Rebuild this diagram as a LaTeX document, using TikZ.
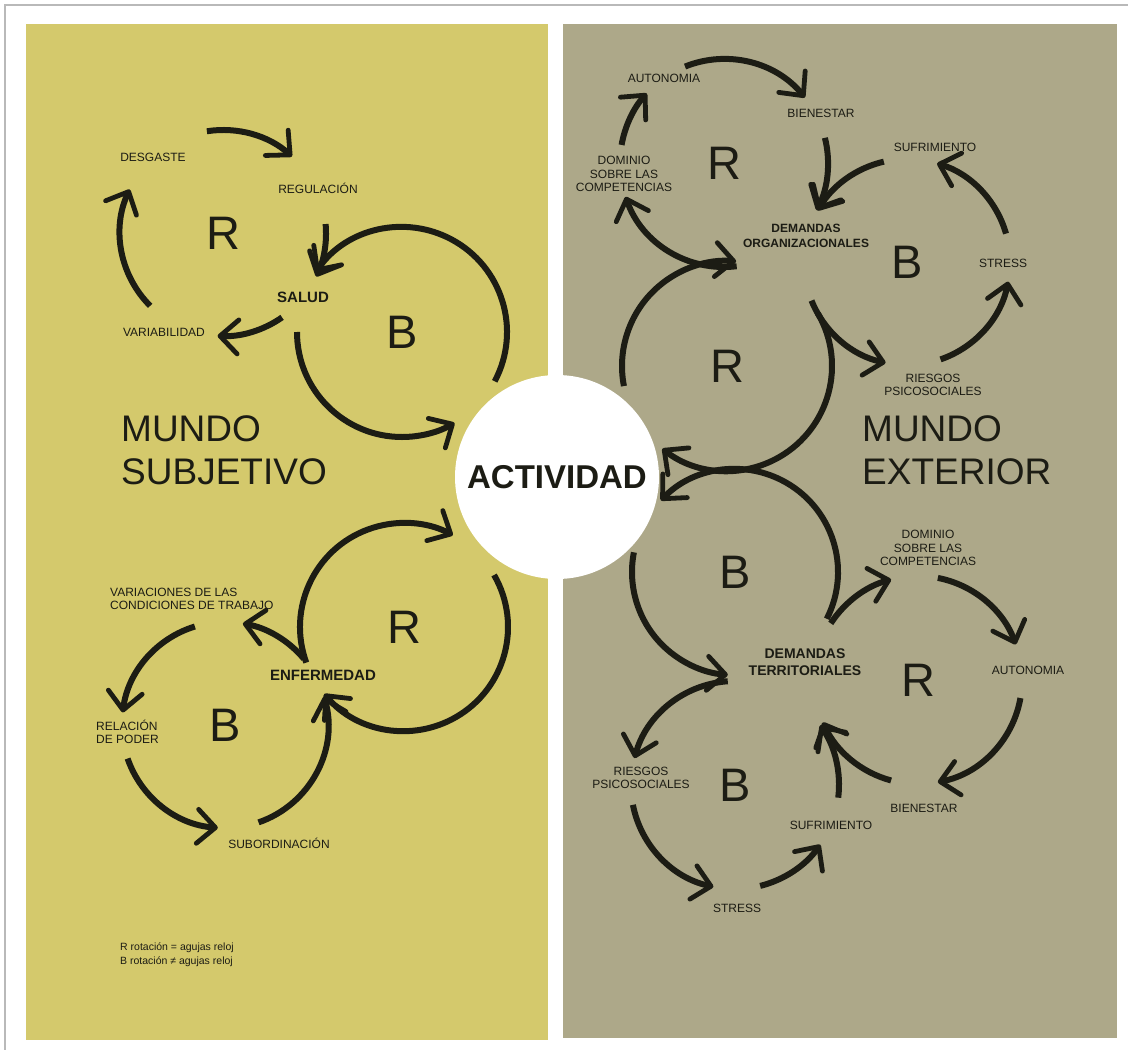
\documentclass[tikz,border=0pt]{standalone}
\usepackage{fontspec}
\setmainfont{Liberation Sans}
\usetikzlibrary{arrows.meta}

\definecolor{subjetivo}{HTML}{D4C96C}
\definecolor{exterior}{HTML}{ADA889}
\definecolor{ink}{HTML}{1C1C14}
\definecolor{rim}{HTML}{B9B9B9}

\tikzset{
  flow/.style={draw=ink, line width=6pt,
    -{Straight Barb[length=18pt,width=34pt,line width=4.8pt,round]}},
  lbl/.style={font=\fontsize{12}{13.5}\selectfont, text=ink, align=center, inner sep=0pt},
  keylbl/.style={font=\fontsize{15}{17}\selectfont\bfseries, text=ink, align=center, inner sep=0pt},
  loopletter/.style={font=\fontsize{47}{47}\selectfont, text=ink, inner sep=0pt},
  world/.style={font=\fontsize{37}{43}\selectfont, text=ink, align=left, anchor=west, inner sep=0pt}
}

\begin{document}
\begin{tikzpicture}[x=1pt,y=-1pt]
  \useasboundingbox (0,0) rectangle (1128,1050);
  \fill[white] (0,0) rectangle (1128,1050);
  \draw[rim, line width=1.5pt] (5,1050) -- (5,5) -- (1128,5);
  % the two worlds
  \fill[subjetivo] (26,24) rectangle (548,1040);
  \fill[exterior] (563,24) rectangle (1117,1038);
  \node[circle, fill=white, minimum size=204pt, inner sep=0pt,
        font=\fontsize{33}{33}\selectfont\bfseries, text=ink] (actividad) at (557,477) {ACTIVIDAD};

  % loop letters (they sit at the loop centres)
  \node[loopletter] (rSalud) at (223,233) {R};
  \node[loopletter] (bSalud) at (402,332) {B};
  \node[loopletter] (rEnf) at (404,627) {R};
  \node[loopletter] (bEnf) at (225,725) {B};
  \node[loopletter] (rOrgTop) at (724,163) {R};
  \node[loopletter] (bOrg) at (907,262) {B};
  \node[loopletter] (rMid) at (727,366) {R};
  \node[loopletter] (bMid) at (735,572) {B};
  \node[loopletter] (rTer) at (918,680) {R};
  \node[loopletter] (bTer) at (735,785) {B};

  % Loops: {centre/radius/start angle/end angle}
  \foreach \c/\r/\sa/\ea in {rSalud/103/261/312, rSalud/103/-5/25, rSalud/103/55/93, rSalud/103/135/205,
      bSalud/105/28/-145, bSalud/105/180/60,
      rEnf/104/160/298, rEnf/104/-30/140,
      bEnf/103/-40/-80, bEnf/103/253/187, bEnf/103/161/94, bEnf/103/71/-16,
      rOrgTop/104/83/161, rOrgTop/104/190/222, rOrgTop/104/248/321, rOrgTop/104/-14/27,
      bOrg/103/158/102, bOrg/103/71/11, bOrg/103/-16/-73, bOrg/103/257/210,
      rMid/105/169/275, rMid/105/-30/128,
      bMid/103/27/-136, bMid/103/191/94,
      rTer/104/213/255, rTer/104/281/340, rTer/104/10/79, rTer/104/105/156,
      bTer/104/266/195, bTer/104/169/102, bTer/104/76/35, bTer/104/7/-35}
    \draw[flow] ([shift={(\sa:\r)}]\c.center) arc[start angle=\sa, end angle=\ea, radius=\r];

  % subjective world labels
  \node[lbl] (desgaste) at (153,157) {DESGASTE};
  \node[lbl] (regulacion) at (318,188) {REGULACIÓN};
  \node[lbl] (variabilidad) at (164,332) {VARIABILIDAD};
  \node[keylbl] (salud) at (303,297) {SALUD};
  \node[lbl, align=left, anchor=west] (variaciones) at (110,599) {VARIACIONES DE LAS\\CONDICIONES DE TRABAJO};
  \node[keylbl] (enfermedad) at (323,675) {ENFERMEDAD};
  \node[lbl, align=left, anchor=west] (relacion) at (96,732) {RELACIÓN\\DE PODER};
  \node[lbl] (subordinacion) at (279,843) {SUBORDINACIÓN};
  \node[lbl, font=\fontsize{10.5}{14}\selectfont, align=left, anchor=west] (leyenda) at (120,955)
    {R rotación = agujas reloj\\B rotación ≠ agujas reloj};
  \node[world] (mundoSub) at (121,450) {MUNDO\\SUBJETIVO};

  % exterior world labels
  \node[lbl] (autonomiaOrg) at (664,78) {AUTONOMIA};
  \node[lbl] (bienestarOrg) at (821,113) {BIENESTAR};
  \node[lbl] (dominioOrg) at (624,174) {DOMINIO\\SOBRE LAS\\COMPETENCIAS};
  \node[lbl] (sufrimientoOrg) at (935,147) {SUFRIMIENTO};
  \node[keylbl, font=\fontsize{12}{14.5}\selectfont\bfseries] (demOrg) at (806,236) {DEMANDAS\\ORGANIZACIONALES};
  \node[lbl] (stressOrg) at (1003,263) {STRESS};
  \node[lbl] (riesgosOrg) at (933,385) {RIESGOS\\PSICOSOCIALES};
  \node[world] (mundoExt) at (862,450) {MUNDO\\EXTERIOR};
  \node[lbl] (dominioTer) at (928,548) {DOMINIO\\SOBRE LAS\\COMPETENCIAS};
  \node[keylbl, font=\fontsize{14}{16.5}\selectfont\bfseries] (demTer) at (805,662) {DEMANDAS\\TERRITORIALES};
  \node[lbl] (autonomiaTer) at (1028,670) {AUTONOMIA};
  \node[lbl] (bienestarTer) at (924,808) {BIENESTAR};
  \node[lbl] (sufrimientoTer) at (831,825) {SUFRIMIENTO};
  \node[lbl] (riesgosTer) at (641,778) {RIESGOS\\PSICOSOCIALES};
  \node[lbl] (stressTer) at (737,908) {STRESS};
\end{tikzpicture}
\end{document}
